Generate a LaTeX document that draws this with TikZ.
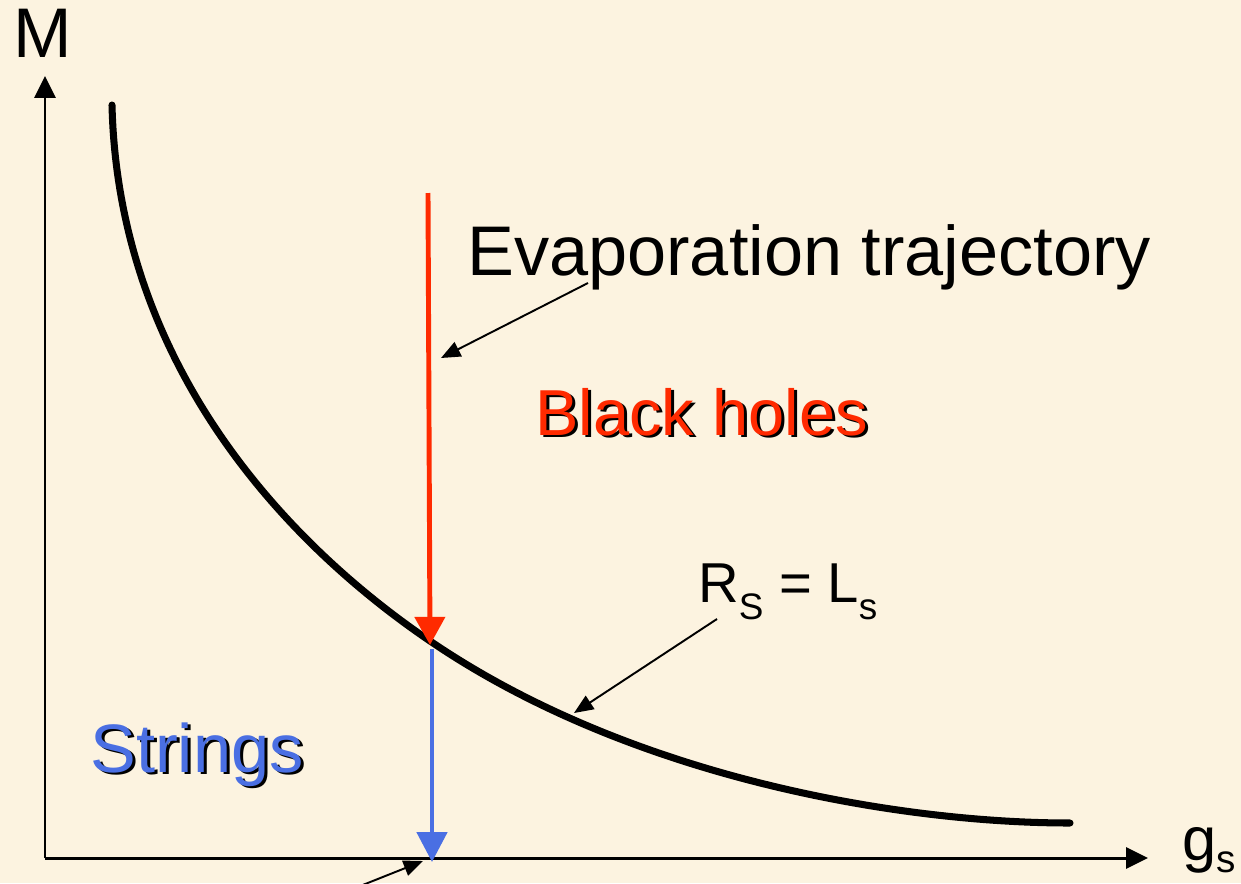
\documentclass[tikz,border=0pt]{standalone}
\usepackage{fontspec}
\setmainfont{Liberation Sans}
\usepackage{tikz}
\usetikzlibrary{arrows.meta,positioning,calc}
\definecolor{parchment}{HTML}{FCF3E0}
\definecolor{bhred}{HTML}{FF2A00}
\definecolor{strblue}{HTML}{4A6FE3}
\newcommand{\lowsub}[3]{\raisebox{-#1}{\fontsize{#2}{#2}\selectfont #3}}
\newcommand{\shadowed}[1]{\rlap{\hspace{1.7pt}\raisebox{-1.7pt}{\color{black}#1}}#1}

\begin{document}
\begin{tikzpicture}[
    x=0.02cm, y=-0.02cm,
    label/.style={inner sep=0pt, anchor=base west, font=\fontsize{40}{48}\selectfont},
    region/.style={inner sep=0pt, anchor=base west, font=\fontsize{37}{44}\selectfont},
    axis/.style={draw, line width=1.7pt, -{Triangle[length=12.5pt, width=12pt]}},
    evap/.style={draw, line width=2.8pt, -{Triangle[length=16pt, width=17pt]}},
    pointer/.style={draw, line width=1.1pt, -{Triangle[length=11pt, width=9pt]}}
]
\useasboundingbox (0,0) rectangle (1241,883);
\fill [parchment] (0,0) rectangle (1241,883);
\clip (0,0) rectangle (1241,883);

% axes
\coordinate (origin) at (45,858);
\coordinate (mtop) at (45,76);
\coordinate (gsend) at (1148,858);
\draw [axis] (origin) -- (mtop);
\draw [axis] (origin) -- (gsend);
\node [label] (mlabel) at (13,57) {M};
\node [label, font=\fontsize{35}{40}\selectfont] (gslabel) at (1182,860) {g\lowsub{7pt}{22}{s}};

% the line R_S = L_s
\coordinate (linetop) at (112,105);
\coordinate (linemid) at (433,643);
\coordinate (lineend) at (1070,823);
\draw [line width=4pt, line cap=round] (linetop)
    .. controls (118,360) and (280,540) .. (linemid)
    .. controls (633,778) and (900,823) .. (lineend);

% evaporation trajectory
\coordinate (evaptop) at (428,193);
\coordinate (onlinetop) at (430,645);
\coordinate (onlinebot) at (432,649);
\coordinate (onaxis) at (432,862);
\draw [evap, color=bhred] (evaptop) -- (onlinetop);
\draw [evap, color=strblue, -{Triangle[length=17pt, width=17pt]}] (onlinebot) -- (onaxis);

% labels
\node [label] (evaplabel) at (467,275) {Evaporation trajectory};
\node [label, font=\fontsize{32}{38}\selectfont] (rslabel) at (698,602)
    {R\lowsub{10pt}{21}{S} = L\lowsub{10pt}{21}{s}};
\node [region, text=bhred] (bhlabel) at (535,435) {\shadowed{Black holes}};
\node [region, text=strblue, font=\fontsize{39}{46}\selectfont] (strlabel) at (90,772) {\shadowed{Strings}};

% pointers
\coordinate (evapfoot) at (588,283);
\coordinate (evaphit) at (441,358);
\coordinate (rsfoot) at (717,619);
\coordinate (rshit) at (574,713);
\coordinate (axisfoot) at (330,898);
\coordinate (axishit) at (423,861);
\draw [pointer] (evapfoot) -- (evaphit);
\draw [pointer] (rsfoot) -- (rshit);
\draw [pointer] (axisfoot) -- (axishit);

\end{tikzpicture}
\end{document}
